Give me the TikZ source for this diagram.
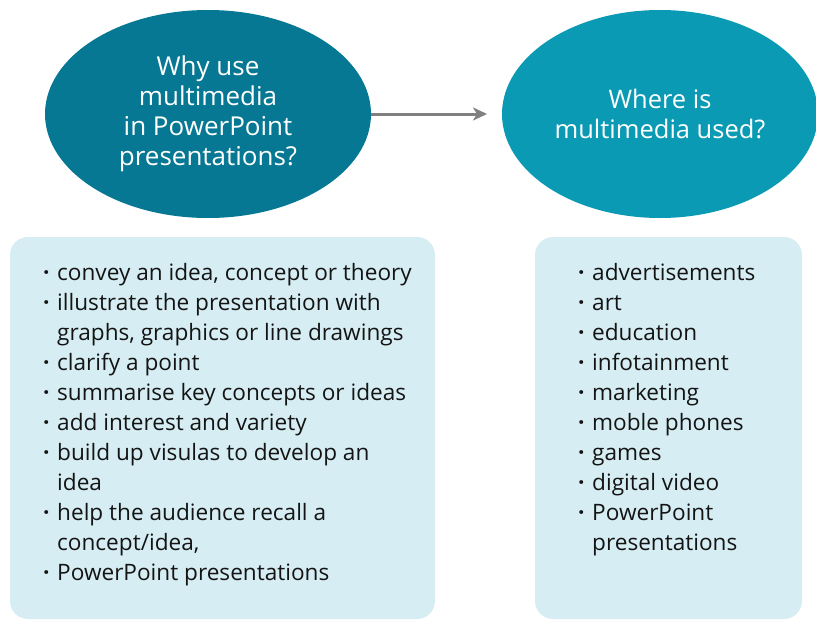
\documentclass[tikz,border=0pt]{standalone}
\usepackage{fontspec}
\setmainfont{Open Sans}
\usetikzlibrary{shapes.geometric,arrows.meta}
\definecolor{darkteal}{HTML}{077893}
\definecolor{lightteal}{HTML}{0A9AB4}
\definecolor{boxfill}{HTML}{D6EEF3}
\definecolor{arrowgray}{HTML}{808080}
\definecolor{txt}{HTML}{141414}
\newcommand\bul{\makebox[14pt][l]{\textbf{·}}}
\newcommand\ind{\hspace*{14pt}}
\begin{document}
\begin{tikzpicture}[x=1pt,y=-1pt,
  bubble/.style={ellipse, inner sep=0pt, minimum width=326pt, minimum height=208pt, text=white,
    font=\fontsize{26pt}{30pt}\selectfont, align=center},
  panel/.style={rounded corners=18pt, fill=boxfill},
  listtext/.style={anchor=north west, inner sep=0pt, align=left, text=txt,
    font=\fontsize{22.6pt}{30pt}\selectfont},
  link/.style={draw=arrowgray, line width=3pt, -{Stealth[length=14pt,width=13pt,inset=4pt]}}]
\useasboundingbox (0,0) rectangle (816,621);
\fill[white] (0,0) rectangle (816,621);
\node[bubble, fill=darkteal] (why) at (208,114) {Why use\\multimedia\\in PowerPoint\\presentations?};
\node[bubble, fill=lightteal, minimum width=316pt, font=\fontsize{25.5pt}{30pt}\selectfont] (where) at (660,114) {Where is\\multimedia used?};
\coordinate (tip) at (487,114);
\draw[link] (why.east) -- (tip);
\fill[panel] (10,237) rectangle (435,619);
\fill[panel] (535,237) rectangle (802,619);
\node[listtext] (whylist) at (43,263) {\bul convey an idea, concept or theory\\
\bul illustrate the presentation with\\
\ind graphs, graphics or line drawings\\
\bul clarify a point\\
\bul summarise key concepts or ideas\\
\bul add interest and variety\\
\bul build up visulas to develop an\\
\ind idea\\
\bul help the audience recall a\\
\ind concept/idea,\\
\bul PowerPoint presentations};
\node[listtext] (wherelist) at (578,263) {\bul advertisements\\
\bul art\\
\bul education\\
\bul infotainment\\
\bul marketing\\
\bul moble phones\\
\bul games\\
\bul digital video\\
\bul PowerPoint\\
\ind presentations};
\end{tikzpicture}
\end{document}
